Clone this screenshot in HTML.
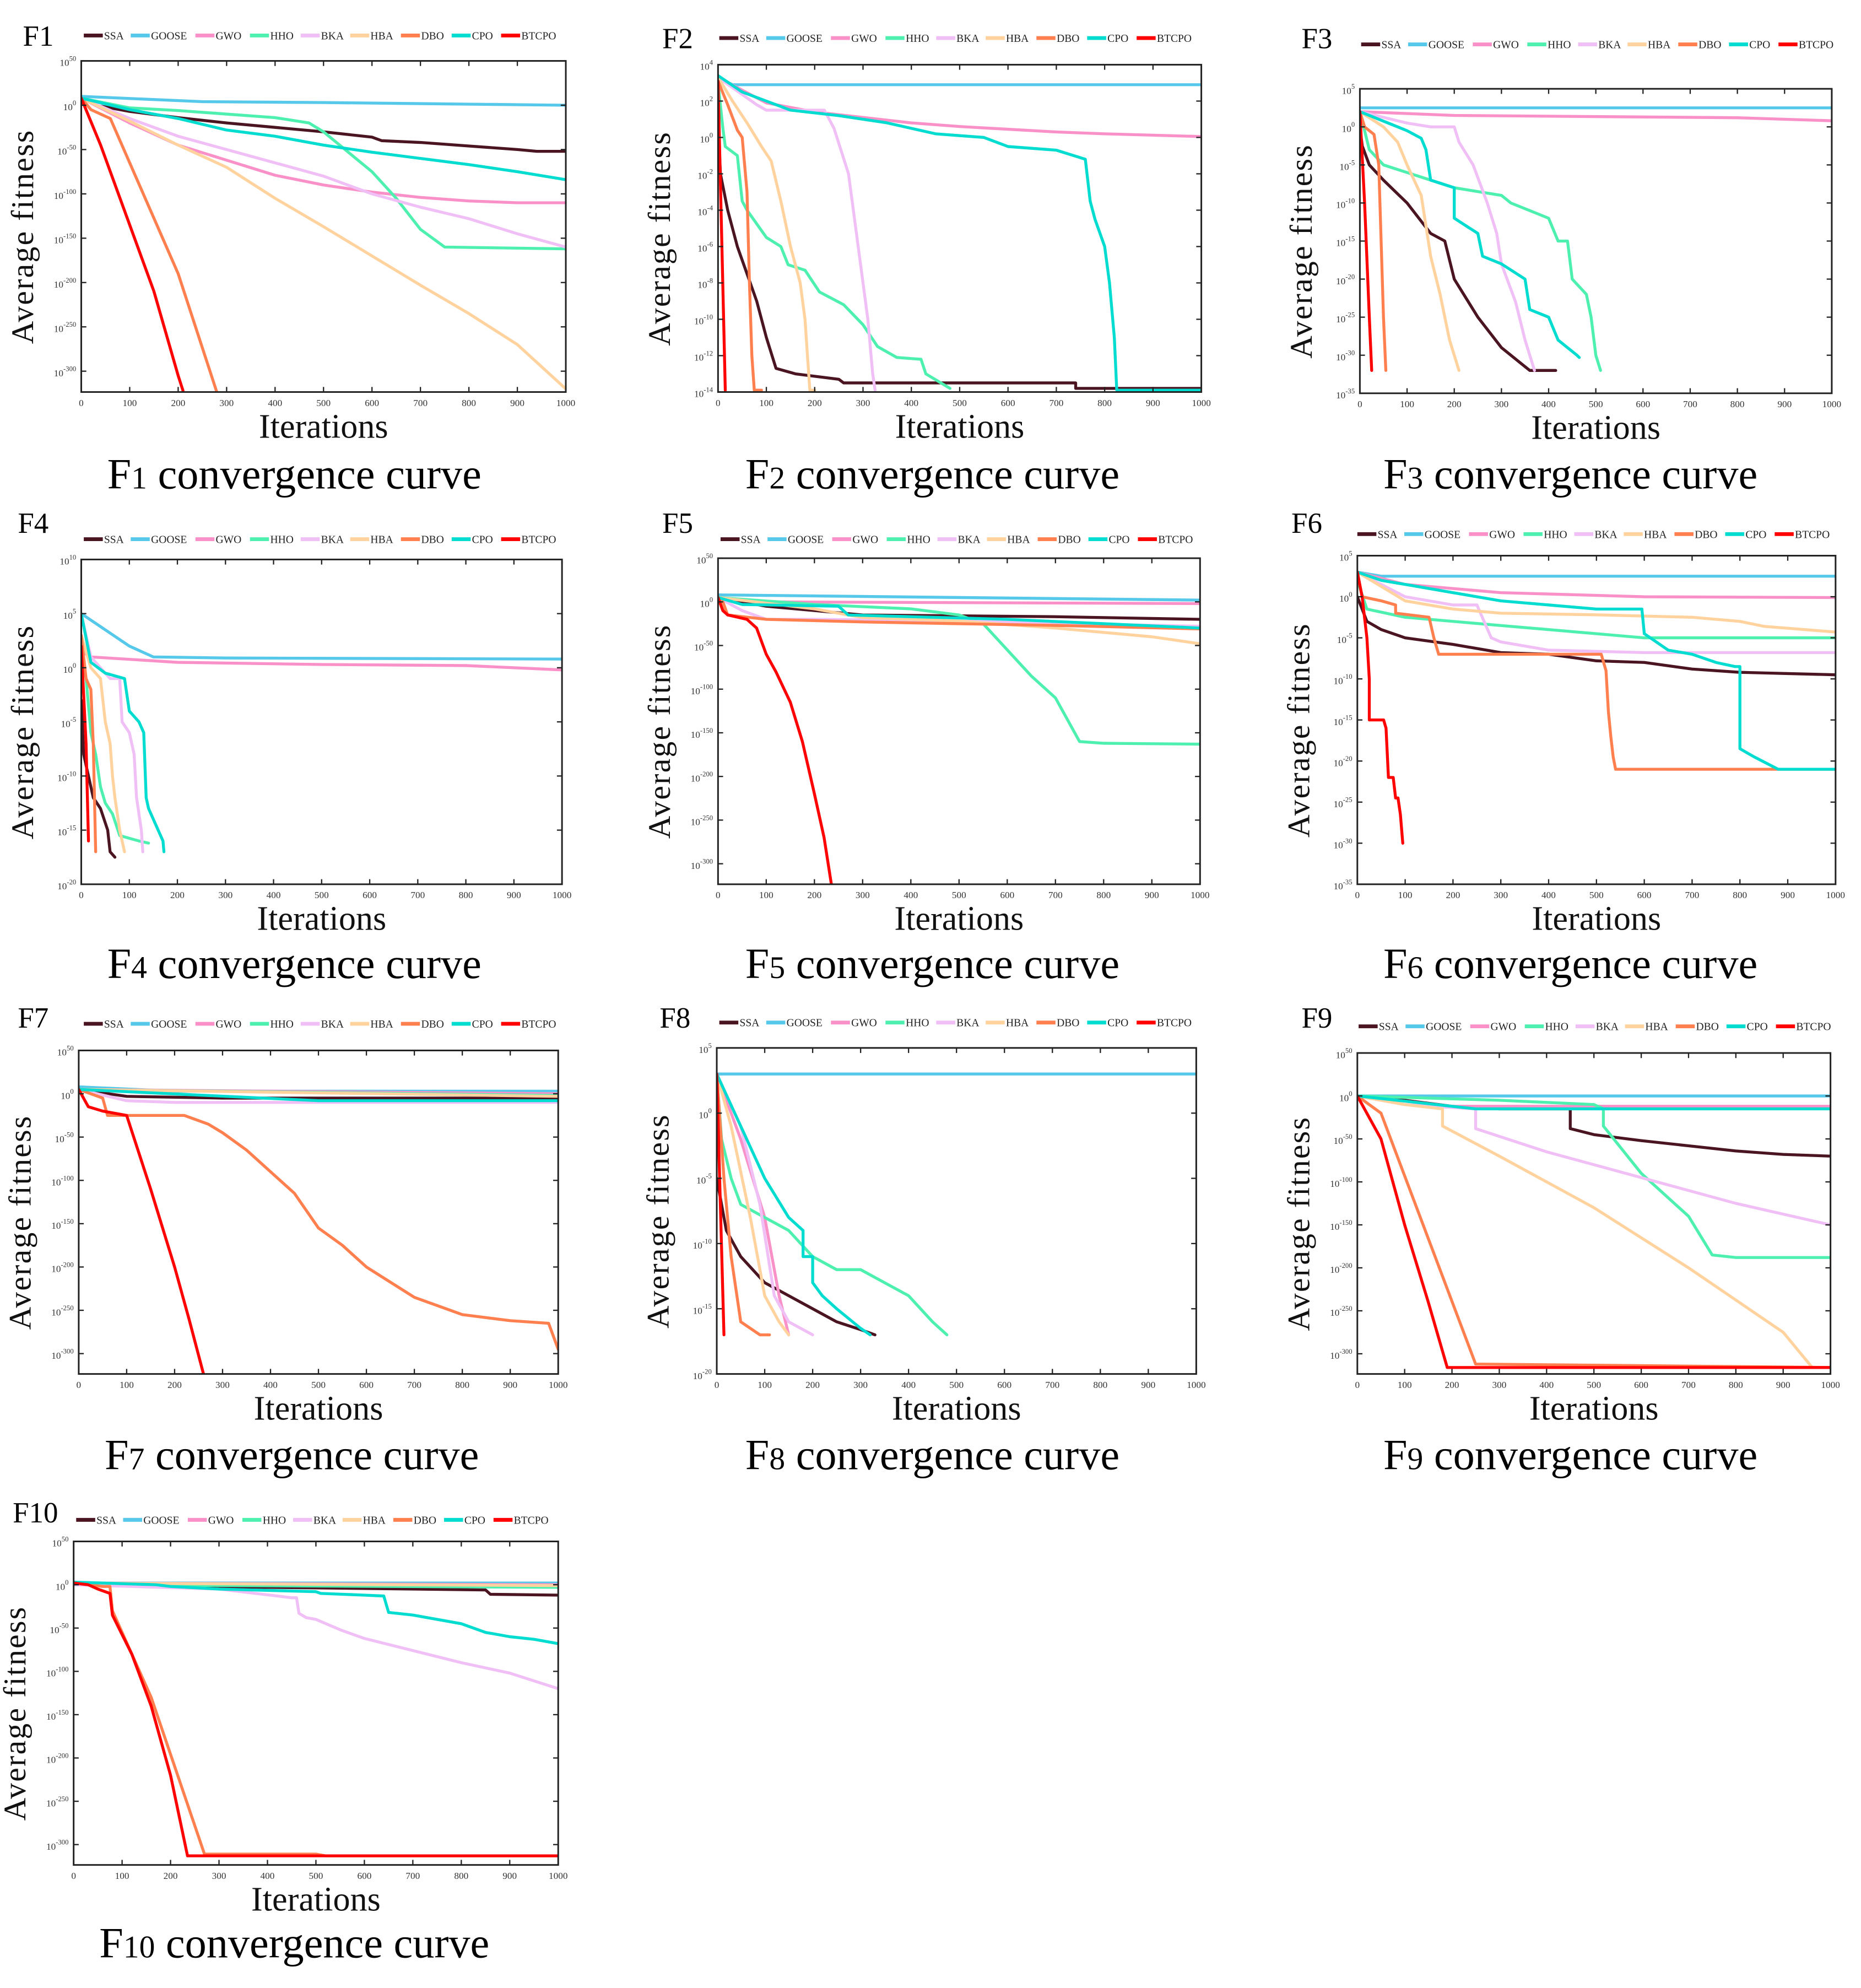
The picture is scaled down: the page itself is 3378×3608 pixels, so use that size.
<!DOCTYPE html>
<html><head><meta charset="utf-8">
<style>
html,body{margin:0;padding:0;background:#fff;}
svg{display:block;font-family:"Liberation Serif",serif;}
</style></head>
<body>
<svg id="chart" width="3378" height="3608" viewBox="0 0 1467 1567" xmlns="http://www.w3.org/2000/svg"></svg>
<script>
const ALGOS = ["SSA","GOOSE","GWO","HHO","BKA","HBA","DBO","CPO","BTCPO"];
const XTICKS = [0,100,200,300,400,500,600,700,800,900,1000];

// F1
const F1_SSA=[[0,8],[30,0],[100,-7],[200,-14],[300,-20],[400,-25],[500,-30],[600,-36],[620,-40],[700,-42],[800,-46],[900,-50],[940,-52],[1000,-52]];
const F1_GOOSE=[[0,10],[250,4],[500,3],[1000,0]];
const F1_GWO=[[0,8],[100,-20],[200,-45],[300,-62],[400,-79],[500,-90],[600,-98],[700,-104],[800,-108],[900,-110],[1000,-110]];
const F1_HHO=[[0,8],[100,-3],[200,-6],[300,-10],[400,-14],[470,-20],[500,-30],[600,-75],[650,-105],[700,-140],[750,-160],[1000,-162]];
const F1_BKA=[[0,8],[100,-15],[200,-35],[300,-50],[400,-65],[500,-80],[600,-100],[700,-115],[800,-128],[900,-145],[1000,-160]];
const F1_HBA=[[0,8],[100,-18],[200,-45],[300,-70],[400,-105],[500,-137],[600,-170],[700,-203],[800,-235],[900,-270],[1000,-320]];
const F1_DBO=[[0,8],[20,-5],[60,-15],[100,-65],[200,-190],[280,-324]];
const F1_CPO=[[0,8],[100,-5],[200,-15],[300,-28],[400,-35],[500,-45],[600,-53],[700,-60],[800,-67],[900,-75],[1000,-84]];
const F1_BTCPO=[[0,8],[40,-45],[100,-135],[150,-210],[200,-305],[210,-322]];
// F2
const F2_SSA=[[0,1],[5,-2],[20,-4],[40,-6],[60,-7.5],[80,-9],[100,-11],[120,-12.7],[160,-13],[250,-13.3],[260,-13.5],[740,-13.5],[740,-13.8],[1000,-13.8]];
const F2_GOOSE=[[0,3.3],[30,2.9],[1000,2.9]];
const F2_GWO=[[0,3.3],[100,1.9],[200,1.4],[300,1.1],[400,0.8],[500,0.6],[600,0.45],[700,0.3],[800,0.2],[1000,0.05]];
const F2_HHO=[[0,3],[10,0.5],[15,-0.5],[40,-1],[50,-3.5],[60,-4],[100,-5.5],[130,-6],[145,-7],[180,-7.3],[210,-8.5],[260,-9.2],[300,-10.3],[330,-11.5],[370,-12.1],[420,-12.2],[430,-13],[480,-13.8]];
const F2_BKA=[[0,3.3],[80,1.8],[100,1.5],[220,1.5],[240,0.5],[270,-2],[290,-6],[310,-10],[320,-13],[325,-13.9]];
const F2_HBA=[[0,3.3],[30,2],[60,0.8],[90,-0.5],[110,-1.3],[130,-3.5],[150,-6],[170,-8],[180,-10],[185,-12],[190,-13.9],[200,-13.9]];
const F2_DBO=[[0,3.1],[20,1.8],[40,0.4],[50,0],[60,-3],[65,-8],[70,-12],[75,-13.9],[90,-13.9]];
const F2_CPO=[[0,3.4],[50,2.5],[100,2],[150,1.5],[250,1.2],[350,0.8],[400,0.5],[450,0.2],[550,0],[600,-0.5],[700,-0.7],[760,-1.2],[770,-3.5],[780,-4.5],[800,-6],[810,-8],[820,-11],[825,-13.9],[1000,-13.9]];
const F2_BTCPO=[[0,3.1],[15,-13.9]];
// F3
const F3_SSA=[[0,0],[5,-2.5],[20,-5],[50,-7],[100,-10],[150,-14],[180,-15],[200,-20],[250,-25],[300,-29],[340,-31],[360,-32],[415,-32]];
const F3_GOOSE=[[0,2.5],[1000,2.5]];
const F3_GWO=[[0,2],[200,1.5],[800,1.2],[1000,0.8]];
const F3_HHO=[[0,2],[20,-3],[50,-5],[100,-6],[150,-7],[200,-8],[300,-9],[320,-10],[400,-12],[420,-15],[440,-15],[450,-20],[480,-22],[490,-25],[500,-30],[510,-32]];
const F3_BKA=[[0,2],[100,0.5],[150,0],[200,0],[210,-2],[240,-5],[270,-10],[290,-14],[300,-18],[330,-23],[350,-28],[370,-32]];
const F3_HBA=[[0,2],[50,0],[80,-2],[100,-5],[130,-9],[140,-13],[150,-17],[170,-22],[190,-28],[210,-32]];
const F3_DBO=[[0,2],[10,0],[30,-1],[40,-5],[50,-25],[55,-32]];
const F3_CPO=[[0,2],[100,-0.5],[130,-1.5],[140,-3],[150,-7],[200,-8],[200,-12],[250,-14],[260,-17],[300,-18],[350,-20],[360,-24],[400,-25],[420,-28],[440,-29],[460,-30],[465,-30.3]];
const F3_BTCPO=[[0,2],[10,-10],[20,-25],[25,-32]];
// F4
const F4_SSA=[[0,-3],[5,-8],[15,-10],[25,-12],[40,-13],[55,-15],[60,-17],[70,-17.5]];
const F4_GOOSE=[[0,5],[50,3.5],[100,2],[150,1],[300,0.9],[1000,0.8]];
const F4_GWO=[[0,1.5],[20,1],[200,0.5],[500,0.3],[800,0.2],[1000,-0.2]];
const F4_HHO=[[0,2],[10,-1],[20,-6],[30,-8],[40,-11],[50,-12.5],[65,-13.5],[80,-15.5],[120,-16],[140,-16.2]];
const F4_BKA=[[0,5],[20,1],[60,-1],[80,-1],[85,-5],[100,-6],[110,-8],[115,-12],[125,-15],[128,-17]];
const F4_HBA=[[0,3],[20,0],[40,-1],[50,-5],[60,-7],[65,-10],[70,-12],[80,-15],[90,-17]];
const F4_DBO=[[0,3],[10,-1],[20,-2],[25,-7],[30,-17]];
const F4_CPO=[[0,5],[20,0.5],[50,-0.5],[90,-1],[100,-4],[120,-5],[130,-6],[135,-12],[140,-13],[150,-14],[170,-16],[172,-17]];
const F4_BTCPO=[[0,2],[10,-7],[15,-16]];
// F5
const F5_SSA=[[0,5],[100,-5],[200,-10],[300,-15],[500,-16],[700,-17],[1000,-20]];
const F5_GOOSE=[[0,8],[1000,2]];
const F5_GWO=[[0,5],[100,0],[1000,-2]];
const F5_HHO=[[0,5],[200,-3],[400,-8],[500,-15],[550,-25],[600,-55],[650,-85],[700,-110],[750,-160],[800,-162],[1000,-163]];
const F5_BKA=[[0,5],[50,-10],[100,-20],[200,-20],[500,-22],[1000,-28]];
const F5_HBA=[[0,5],[200,-8],[300,-18],[500,-22],[700,-30],[900,-40],[1000,-48]];
const F5_DBO=[[0,5],[10,0],[20,-15],[100,-20],[300,-23],[500,-25],[700,-27],[1000,-31]];
const F5_CPO=[[0,5],[50,-3],[250,-5],[270,-15],[400,-17],[600,-20],[800,-25],[1000,-30]];
const F5_BTCPO=[[0,5],[10,-10],[20,-15],[60,-20],[80,-30],[100,-60],[120,-80],[150,-115],[175,-160],[200,-220],[220,-270],[235,-323]];
// F6
const F6_SSA=[[0,0],[20,-3],[50,-4],[100,-5],[200,-5.8],[300,-6.8],[400,-7],[500,-7.8],[600,-8],[700,-8.8],[800,-9.2],[1000,-9.5]];
const F6_GOOSE=[[0,3],[50,2.5],[1000,2.5]];
const F6_GWO=[[0,3],[100,1.5],[300,0.5],[600,0],[1000,-0.1]];
const F6_HHO=[[0,2],[20,-1.5],[100,-2.5],[300,-3.5],[500,-4.5],[600,-5],[1000,-5]];
const F6_BKA=[[0,3],[100,0],[200,-1],[250,-1],[280,-5],[300,-5.5],[400,-6.5],[600,-6.8],[1000,-6.8]];
const F6_HBA=[[0,3],[100,-0.5],[200,-1.5],[300,-2],[500,-2.2],[700,-2.5],[800,-3],[850,-3.6],[1000,-4.3]];
const F6_DBO=[[0,3],[10,0],[50,-0.5],[80,-1],[80,-2],[150,-2.5],[160,-5],[170,-7],[510,-7],[520,-9],[525,-14],[530,-17],[535,-19.5],[540,-21],[1000,-21]];
const F6_CPO=[[0,3],[50,2],[100,1.5],[200,0.5],[300,-0.5],[400,-1],[500,-1.5],[595,-1.5],[600,-4.5],[650,-6.5],[700,-7],[750,-8],[790,-8.5],[800,-8.5],[800,-18.5],[830,-19.5],[880,-21],[1000,-21]];
const F6_BTCPO=[[0,3],[10,0],[20,-5],[25,-10],[25,-15],[55,-15],[60,-16],[65,-22],[75,-22],[80,-24.5],[85,-24.5],[90,-26.5],[95,-30]];
// F7
const F7_SSA=[[0,5],[100,-3],[300,-5],[1000,-5]];
const F7_GOOSE=[[0,8],[200,3],[1000,3]];
const F7_GWO=[[0,5],[1000,0]];
const F7_HHO=[[0,5],[1000,-2]];
const F7_BKA=[[0,5],[100,-8],[200,-10],[1000,-10]];
const F7_HBA=[[0,5],[1000,-3]];
const F7_DBO=[[0,5],[50,-5],[60,-25],[220,-25],[270,-35],[300,-45],[350,-65],[400,-90],[450,-115],[500,-155],[550,-175],[600,-200],[700,-235],[800,-255],[900,-262],[980,-265],[1000,-295]];
const F7_CPO=[[0,5],[500,-8],[1000,-8]];
const F7_BTCPO=[[0,5],[20,-15],[50,-20],[100,-25],[150,-110],[200,-200],[230,-260],[260,-323]];
// F8
const F8_SSA=[[0,-5],[10,-7],[20,-9],[50,-11],[100,-13],[150,-14],[200,-15],[250,-16],[300,-16.6],[330,-17]];
const F8_GOOSE=[[0,3],[1000,3]];
const F8_GWO=[[0,3],[50,-2],[100,-8],[130,-14],[150,-17]];
const F8_HHO=[[0,3],[10,-2],[30,-5],[50,-7],[100,-8],[150,-9],[200,-11],[250,-12],[300,-12],[350,-13],[400,-14],[450,-16],[480,-17]];
const F8_BKA=[[0,3],[50,-1],[90,-7],[120,-14],[150,-16],[200,-17]];
const F8_HBA=[[0,3],[30,-1],[70,-8],[100,-14],[130,-16],[150,-17]];
const F8_DBO=[[0,3],[15,-5],[30,-11],[50,-16],[90,-17],[110,-17]];
const F8_CPO=[[0,3],[50,-1],[100,-5],[150,-8],[180,-9],[180,-11],[200,-11],[200,-13],[220,-14],[250,-15],[300,-16.5],[320,-17]];
const F8_BTCPO=[[0,3],[15,-17]];
// F9
const F9_SSA=[[0,0],[100,-5],[200,-12],[300,-15],[450,-15],[450,-38],[500,-45],[600,-52],[700,-58],[800,-64],[900,-68],[1000,-70]];
const F9_GOOSE=[[0,0],[1000,0]];
const F9_GWO=[[0,0],[200,-12],[1000,-12]];
const F9_HHO=[[0,0],[300,-5],[500,-10],[520,-15],[520,-35],[600,-90],[700,-140],[750,-185],[800,-188],[1000,-188]];
const F9_BKA=[[0,0],[100,-10],[250,-15],[250,-38],[400,-65],[600,-95],[800,-125],[1000,-150]];
const F9_HBA=[[0,0],[100,-10],[180,-15],[180,-35],[300,-70],[500,-130],[700,-200],[900,-275],[960,-315]];
const F9_DBO=[[0,0],[50,-20],[250,-312],[450,-313],[1000,-316]];
const F9_CPO=[[0,0],[250,-15],[1000,-15]];
const F9_BTCPO=[[0,0],[50,-50],[100,-150],[150,-240],[190,-316],[1000,-316]];
// F10
const F10_SSA=[[0,0],[400,-3],[850,-6],[860,-11],[1000,-12]];
const F10_GOOSE=[[0,2],[1000,2]];
const F10_GWO=[[0,2],[1000,0]];
const F10_HHO=[[0,0],[1000,-3]];
const F10_BKA=[[0,0],[300,-5],[450,-15],[460,-15],[465,-33],[480,-38],[500,-40],[550,-52],[600,-62],[700,-76],[800,-90],[900,-102],[1000,-120]];
const F10_HBA=[[0,2],[1000,-1]];
const F10_DBO=[[0,2],[60,-2],[75,-2],[80,-30],[120,-80],[160,-130],[270,-311],[500,-311],[520,-313],[1000,-313]];
const F10_CPO=[[0,3],[170,0],[200,-2],[300,-5],[500,-8],[510,-10],[600,-12],[640,-13],[650,-32],[700,-35],[750,-40],[800,-45],[850,-55],[900,-60],[950,-63],[1000,-68]];
const F10_BTCPO=[[0,2],[30,0],[50,-5],[75,-10],[80,-35],[120,-80],[160,-140],[200,-220],[235,-313],[1000,-313]];

const SERIES = {
 F1:[F1_SSA,F1_GOOSE,F1_GWO,F1_HHO,F1_BKA,F1_HBA,F1_DBO,F1_CPO,F1_BTCPO],
 F2:[F2_SSA,F2_GOOSE,F2_GWO,F2_HHO,F2_BKA,F2_HBA,F2_DBO,F2_CPO,F2_BTCPO],
 F3:[F3_SSA,F3_GOOSE,F3_GWO,F3_HHO,F3_BKA,F3_HBA,F3_DBO,F3_CPO,F3_BTCPO],
 F4:[F4_SSA,F4_GOOSE,F4_GWO,F4_HHO,F4_BKA,F4_HBA,F4_DBO,F4_CPO,F4_BTCPO],
 F5:[F5_SSA,F5_GOOSE,F5_GWO,F5_HHO,F5_BKA,F5_HBA,F5_DBO,F5_CPO,F5_BTCPO],
 F6:[F6_SSA,F6_GOOSE,F6_GWO,F6_HHO,F6_BKA,F6_HBA,F6_DBO,F6_CPO,F6_BTCPO],
 F7:[F7_SSA,F7_GOOSE,F7_GWO,F7_HHO,F7_BKA,F7_HBA,F7_DBO,F7_CPO,F7_BTCPO],
 F8:[F8_SSA,F8_GOOSE,F8_GWO,F8_HHO,F8_BKA,F8_HBA,F8_DBO,F8_CPO,F8_BTCPO],
 F9:[F9_SSA,F9_GOOSE,F9_GWO,F9_HHO,F9_BKA,F9_HBA,F9_DBO,F9_CPO,F9_BTCPO],
 F10:[F10_SSA,F10_GOOSE,F10_GWO,F10_HHO,F10_BKA,F10_HBA,F10_DBO,F10_CPO,F10_BTCPO]
};

const COLORS = ["#4a1520","#56c8ea","#f990c8","#4ef0b0","#f0bff6","#ffd29e","#ff7f4f","#00ddd0","#ff0000"];
const LEG_OFF = [0,37,88,131,171,210,250,290,329];

const PANELS = [
 {id:"F1",n:"1",ax:[64,48,446,309],title:[18,36],legY:28,legX:66,cap:[232,385],ymax:50,ymin:-323.5,tick:50},
 {id:"F2",n:"2",ax:[566,51,947,309],title:[522,38],legY:30,legX:567,cap:[735,385],ymax:4,ymin:-14,tick:2},
 {id:"F3",n:"3",ax:[1072,70,1444,310],title:[1026,38],legY:35,legX:1073,cap:[1238,385],ymax:5,ymin:-35,tick:5},
 {id:"F4",n:"4",ax:[64,441,443,697],title:[14,420],legY:425,legX:66,cap:[232,771],ymax:10,ymin:-20,tick:5},
 {id:"F5",n:"5",ax:[566,440,946,697],title:[522,420],legY:425,legX:568,cap:[735,771],ymax:50,ymin:-323.5,tick:50},
 {id:"F6",n:"6",ax:[1070,438,1447,697],title:[1018,420],legY:421,legX:1070,cap:[1238,771],ymax:5,ymin:-35,tick:5},
 {id:"F7",n:"7",ax:[62,828,440,1083],title:[14,810],legY:807,legX:66,cap:[230,1158],ymax:50,ymin:-323.5,tick:50},
 {id:"F8",n:"8",ax:[565,826,943,1083],title:[520,810],legY:806,legX:567,cap:[735,1158],ymax:5,ymin:-20,tick:5},
 {id:"F9",n:"9",ax:[1070,830,1443,1083],title:[1026,810],legY:809,legX:1071,cap:[1238,1158],ymax:50,ymin:-323.5,tick:50},
 {id:"F10",n:"10",ax:[58,1215,440,1470],title:[10,1200],legY:1198,legX:60,cap:[232,1543],ymax:50,ymin:-323.5,tick:50}
];

const NS="http://www.w3.org/2000/svg";
const svg=document.getElementById("chart");
function mk(tag,attrs,parent){const e=document.createElementNS(NS,tag);for(const k in attrs)e.setAttribute(k,attrs[k]);(parent||svg).appendChild(e);return e;}

PANELS.forEach(p=>{
  const g=mk("g",{});
  
  
  const [x0,y0,x1,y1]=p.ax;
  const xs=v=>x0+(v/1000)*(x1-x0);
  const ys=v=>y0+(p.ymax-v)/(p.ymax-p.ymin)*(y1-y0);

  const t=mk("text",{x:p.title[0],y:p.title[1],"font-size":23,fill:"#000"},g);
  t.textContent=p.id;
  
  

  ALGOS.forEach((a,i)=>{
    const lx=p.legX+LEG_OFF[i];
    const sw=mk("line",{x1:lx,y1:p.legY,x2:lx+15,y2:p.legY,stroke:COLORS[i],"stroke-width":3},g);
    
    
    const lt=mk("text",{x:lx+16,y:p.legY+3,"font-size":8.5,fill:"#222"},g);
    lt.textContent=a;
    
    
  });

  const cid="clip"+p.id;
  const cp=mk("clipPath",{id:cid},g);
  mk("rect",{x:x0,y:y0,width:x1-x0,height:y1-y0},cp);

  const sg=mk("g",{"clip-path":"url(#"+cid+")"},g);
  SERIES[p.id].forEach((pts,i)=>{
    const d=pts.map((q,j)=>(j?"L":"M")+xs(q[0]).toFixed(2)+","+ys(q[1]).toFixed(2)).join(" ");
    const path=mk("path",{d:d,fill:"none",stroke:COLORS[i],"stroke-width":2.3,"stroke-linejoin":"round","stroke-linecap":"round"},sg);
    
    
  });

  const box=mk("rect",{x:x0,y:y0,width:x1-x0,height:y1-y0,fill:"none",stroke:"#222","stroke-width":1.3},g);
  
  

  XTICKS.forEach(v=>{
    const X=xs(v);
    mk("line",{x1:X,y1:y1,x2:X,y2:y1-4,stroke:"#222","stroke-width":1},g);
    mk("line",{x1:X,y1:y0,x2:X,y2:y0+4,stroke:"#222","stroke-width":1},g);
    const tl=mk("text",{x:X,y:y1+11,"font-size":7.5,"text-anchor":"middle",fill:"#333"},g);
    tl.textContent=String(v);
    
    
  });
  for(let v=p.ymax; v>=p.ymin-1e-9; v-=p.tick){
    const Y=ys(v);
    mk("line",{x1:x0,y1:Y,x2:x0+4,y2:Y,stroke:"#222","stroke-width":1},g);
    mk("line",{x1:x1,y1:Y,x2:x1-4,y2:Y,stroke:"#222","stroke-width":1},g);
    const yt=mk("text",{x:x0-4,y:Y+4,"font-size":7.5,"text-anchor":"end",fill:"#333"},g);
    
    
    const b=mk("tspan",{},yt); b.textContent="10";
    const e=mk("tspan",{dy:-4,"font-size":5.5},yt); e.textContent=String(v);
  }

  const xl=mk("text",{x:(x0+x1)/2,y:y1+36,"font-size":27,"text-anchor":"middle",fill:"#111"},g);
  xl.textContent="Iterations";
  
  
  const cy=(y0+y1)/2+8;
  const yl=mk("text",{x:x0-38,y:cy,"font-size":25,"letter-spacing":1,"text-anchor":"middle",fill:"#111",transform:"rotate(-90 "+(x0-38)+" "+cy+")"},g);
  yl.textContent="Average fitness";
  
  

  const c=mk("text",{x:p.cap[0],y:p.cap[1],"font-size":34,"text-anchor":"middle",fill:"#000"},g);
  
  
  const c1=mk("tspan",{},c); c1.textContent="F";
  const c2=mk("tspan",{"font-size":25},c); c2.textContent=p.n;
  const c3=mk("tspan",{},c); c3.textContent=" convergence curve";
});
</script>
</body></html>
